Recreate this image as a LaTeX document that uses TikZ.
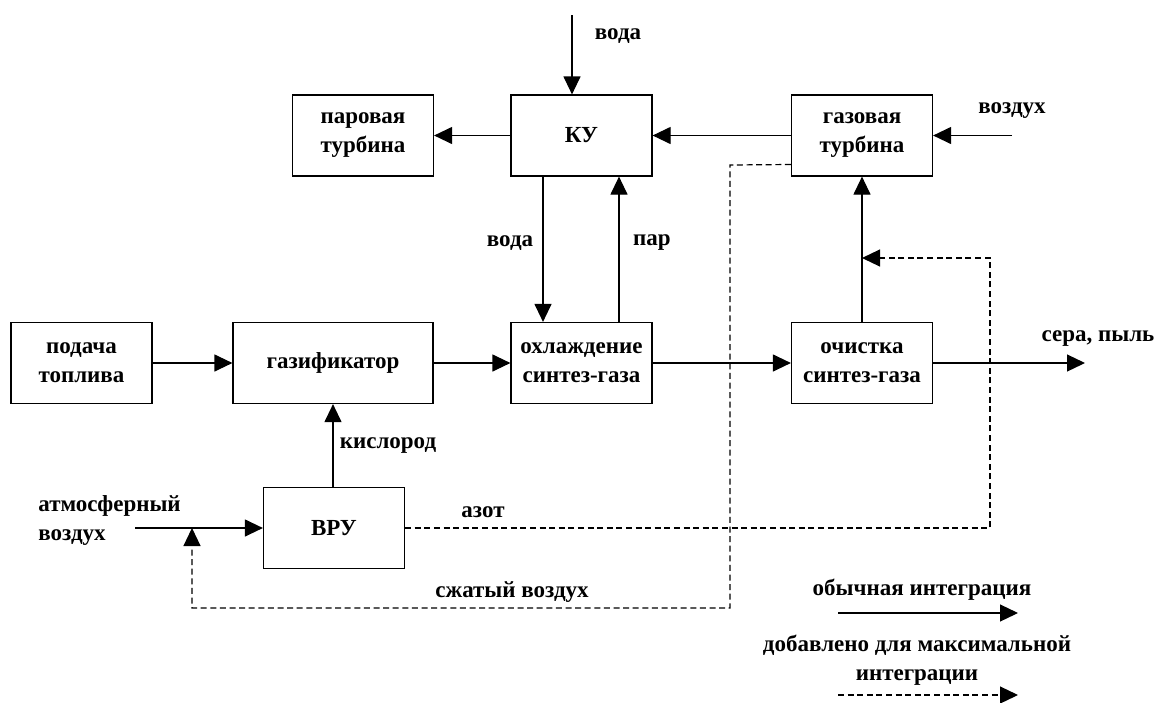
\documentclass[tikz,border=0pt]{standalone}
\usepackage{fontspec}
\setmainfont{Liberation Serif}
\usetikzlibrary{arrows.meta, positioning, calc}

\begin{document}
\begin{tikzpicture}[x=0.5pt, y=-0.5pt,
    font=\fontsize{11.5pt}{14.5pt}\selectfont\bfseries,
    blok/.style={draw, line width=0.6pt, minimum width=70.5pt, minimum height=40.5pt,
        align=center, inner sep=1pt},
    flow/.style={line width=0.6pt, -{Triangle[length=9pt, width=8.5pt]}},
    extra/.style={flow, dash pattern=on 3pt off 1.8pt},
    lbl/.style={align=center, inner sep=0pt}]
    \useasboundingbox (0,0) rectangle (1157,702);

    % Blocks
    \node[blok] (steam) at (363,135.5) {паровая\\турбина};
    \node[blok] (ku) at (581.5,135.5) {КУ};
    \node[blok] (gt) at (862,135.5) {газовая\\турбина};
    \node[blok] (fuel) at (81.5,363) {подача\\топлива};
    \node[blok, minimum width=100pt] (gasif) at (333,363) {газификатор};
    \node[blok] (cool) at (581.5,363) {охлаждение\\синтез-газа};
    \node[blok] (clean) at (862,363) {очистка\\синтез-газа};
    \node[blok] (asu) at (334,528) {ВРУ};

    % Free ends
    \coordinate (waterin) at (572,15);
    \coordinate (airin) at (1012,135.5);
    \coordinate (dust) at (1085,363);
    \coordinate (atmin) at (135,528);

    % Usual integration
    \draw[flow] (waterin) -- (waterin |- ku.north);
    \draw[flow] (ku.west) -- (steam.east);
    \draw[flow] (gt.west) -- (ku.east);
    \draw[flow] (airin) -- (gt.east);
    \draw[flow] ([xshift=-19.25pt]ku.south) -- ([xshift=-19.25pt]cool.north);
    \draw[flow] ([xshift=18.75pt]cool.north) -- ([xshift=18.75pt]ku.south);
    \draw[flow] (fuel) -- (gasif);
    \draw[flow] (gasif) -- (cool);
    \draw[flow] (cool) -- (clean);
    \draw[flow] (clean) -- (dust);
    \draw[flow] (clean) -- (gt);
    \draw[flow] (asu.north -| gasif.south) -- (gasif.south);
    \draw[flow] (atmin) -- (asu.west);

    % Added for maximum integration
    \coordinate (ca) at (192,528);
    \coordinate (nj) at (862,258);
    \draw[extra] ([yshift=-14.5pt]gt.west) -- (730,165) -- (730,608) -- (192,608) -- (ca);
    \draw[extra] (asu.east) -- (990,528) -- (990,258) -- (nj);

    % Labels
    \node[lbl] at (618,36) {вода};
    \node[lbl] at (510,243) {вода};
    \node[lbl] at (652,243) {пар};
    \node[lbl] at (1012,111) {воздух};
    \node[lbl] at (1098,339) {сера, пыль};
    \node[lbl] at (388,446) {кислород};
    \node[lbl, align=left, anchor=west] at (38,520) {атмосферный\\воздух};
    \node[lbl] at (483,512) {азот};
    \node[lbl] at (512,592) {сжатый воздух};

    % Legend
    \coordinate (leg1a) at (838,613);
    \coordinate (leg1b) at (1018,613);
    \coordinate (leg2a) at (838,695);
    \coordinate (leg2b) at (1018,695);
    \draw[flow] (leg1a) -- (leg1b);
    \draw[extra] (leg2a) -- (leg2b);
    \node[lbl] at (922,590) {обычная интеграция};
    \node[lbl] at (917,660) {добавлено для максимальной\\интеграции};
\end{tikzpicture}
\end{document}
